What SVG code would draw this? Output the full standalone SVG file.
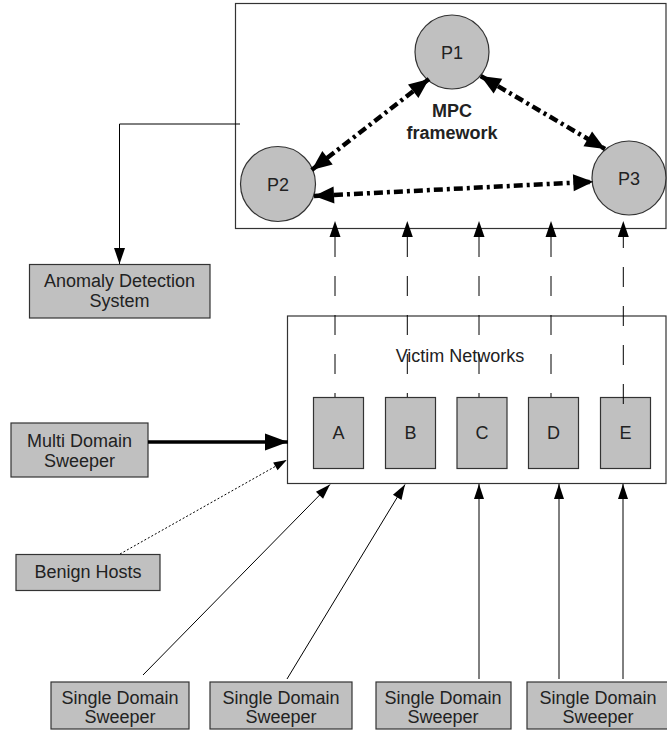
<svg xmlns="http://www.w3.org/2000/svg" width="667" height="730" viewBox="0 0 667 730">
<style>
text{font-family:"Liberation Sans",Arial,sans-serif;font-size:18px;fill:#222;text-anchor:middle}
.bold{font-weight:bold}
.box{fill:#c0c0c0;stroke:#333;stroke-width:1.2}
.frame{fill:#fff;stroke:#333;stroke-width:1.2}
.node{fill:#c0c0c0;stroke:#333;stroke-width:1.2}
.mpc{fill:none;stroke:#000;stroke-width:4.5;stroke-dasharray:9 4 3 4}
.dash{fill:none;stroke:#000;stroke-width:1;stroke-dasharray:20 19}
.thin{fill:none;stroke:#000;stroke-width:1}
.thick{fill:none;stroke:#000;stroke-width:3.5}
.dot{fill:none;stroke:#000;stroke-width:1;stroke-dasharray:2 2}
</style>
<defs>
<marker id="hBig" markerUnits="userSpaceOnUse" markerWidth="20" markerHeight="17" refX="20" refY="8.5" orient="auto-start-reverse" overflow="visible"><path d="M0,0 L20,8.5 L0,17 z" fill="#000"/></marker>
<marker id="hMed" markerUnits="userSpaceOnUse" markerWidth="16" markerHeight="11" refX="16" refY="5.5" orient="auto" overflow="visible"><path d="M0,0 L16,5.5 L0,11 z" fill="#000"/></marker>
<marker id="hThin" markerUnits="userSpaceOnUse" markerWidth="15" markerHeight="10" refX="15" refY="5" orient="auto" overflow="visible"><path d="M0,0 L15,5 L0,10 z" fill="#000"/></marker>
<marker id="hThick" markerUnits="userSpaceOnUse" markerWidth="23" markerHeight="17" refX="23" refY="8.5" orient="auto" overflow="visible"><path d="M0,0 L23,8.5 L0,17 z" fill="#000"/></marker>
<marker id="hDot" markerUnits="userSpaceOnUse" markerWidth="13" markerHeight="9" refX="13" refY="4.5" orient="auto" overflow="visible"><path d="M0,0 L13,4.5 L0,9 z" fill="#000"/></marker>
</defs>

<g id="mpc-framework">
<rect class="frame" x="235.5" y="3.5" width="430.5" height="225"/>
<text class="bold" x="452" y="117">MPC</text>
<text class="bold" x="452" y="139">framework</text>
</g>
<g id="victim-networks">
<rect class="frame" x="287.5" y="316" width="378.5" height="167.5"/>
<text x="460" y="362">Victim Networks</text>
</g>

<g id="P1"><circle class="node" cx="452" cy="52" r="37"/><text x="452" y="59">P1</text></g>
<g id="P2"><circle class="node" cx="278" cy="184" r="37.5"/><text x="278" y="191">P2</text></g>
<g id="P3"><circle class="node" cx="629" cy="178" r="37"/><text x="629" y="185">P3</text></g>

<g id="A"><rect class="box" x="313.5" y="397.5" width="50" height="71"/><text x="338.5" y="439">A</text></g>
<g id="B"><rect class="box" x="385.5" y="397.5" width="50" height="71"/><text x="410.5" y="439">B</text></g>
<g id="C"><rect class="box" x="457" y="397.5" width="50" height="71"/><text x="482" y="439">C</text></g>
<g id="D"><rect class="box" x="528.5" y="397.5" width="50" height="71"/><text x="553.5" y="439">D</text></g>
<g id="E"><rect class="box" x="600.5" y="397.5" width="50" height="71"/><text x="625.5" y="439">E</text></g>

<g id="anomaly"><rect class="box" x="29.5" y="264.5" width="180.5" height="53.5"/><text x="119.5" y="287">Anomaly Detection</text><text x="119.5" y="307">System</text></g>
<g id="multi"><rect class="box" x="11" y="423" width="137" height="54"/><text x="79.5" y="446.5">Multi Domain</text><text x="79.5" y="466.5">Sweeper</text></g>
<g id="benign"><rect class="box" x="16" y="554.5" width="144" height="36"/><text x="88" y="578">Benign Hosts</text></g>
<g id="single1"><rect class="box" x="51" y="682" width="138" height="47"/><text x="120" y="704">Single Domain</text><text x="120" y="723">Sweeper</text></g>
<g id="single2"><rect class="box" x="210" y="682" width="142" height="47"/><text x="281" y="704">Single Domain</text><text x="281" y="723">Sweeper</text></g>
<g id="single3"><rect class="box" x="376" y="682" width="135" height="47"/><text x="443" y="704">Single Domain</text><text x="443" y="723">Sweeper</text></g>
<g id="single4"><rect class="box" x="527" y="682" width="142" height="47"/><text x="598" y="704">Single Domain</text><text x="598" y="723">Sweeper</text></g>

<g id="connectors">
<path class="mpc" d="M429,79 L311.7,170" marker-start="url(#hBig)" marker-end="url(#hBig)"/>
<path class="mpc" d="M480.7,76 L605,149" marker-start="url(#hBig)" marker-end="url(#hBig)"/>
<path class="mpc" d="M314,196 L593.3,181.7" marker-start="url(#hBig)" marker-end="url(#hBig)"/>

<path class="dash" style="stroke-dashoffset:16" d="M335,397 V221" marker-end="url(#hMed)"/>
<path class="dash" style="stroke-dashoffset:16" d="M407.3,397 V221" marker-end="url(#hMed)"/>
<path class="dash" style="stroke-dashoffset:16" d="M479,397 V221" marker-end="url(#hMed)"/>
<path class="dash" style="stroke-dashoffset:16" d="M551,397 V221" marker-end="url(#hMed)"/>
<path class="dash" d="M623.3,404 V221" marker-end="url(#hMed)"/>

<path class="thin" d="M240,124 H119.5 V264" marker-end="url(#hMed)"/>
<path class="thick" d="M148,442 H288" marker-end="url(#hThick)"/>
<path class="dot" d="M120,554 L286.7,460" marker-end="url(#hDot)"/>

<path class="thin" d="M143,675 L330,484.5" marker-end="url(#hThin)"/>
<path class="thin" d="M287,679 L405,484.5" marker-end="url(#hThin)"/>
<path class="thin" d="M479,679 V484" marker-end="url(#hThin)"/>
<path class="thin" d="M559,679 V484" marker-end="url(#hThin)"/>
<path class="thin" d="M623,679 V484" marker-end="url(#hThin)"/>
</g>
</svg>
